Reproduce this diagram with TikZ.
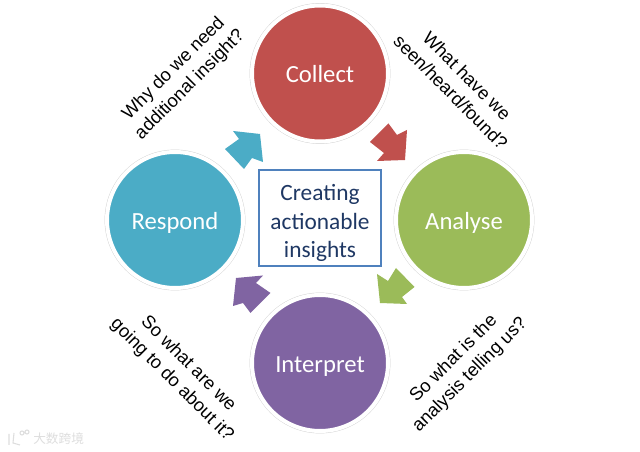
\documentclass[tikz,border=0pt]{standalone}
\usepackage{fontspec}
\setmainfont{Carlito}
\newfontfamily\arialf{Liberation Sans}
\newfontfamily\cjkf{Noto Sans CJK SC}
\definecolor{cred}{HTML}{C0504D}
\definecolor{cgreen}{HTML}{9BBB59}
\definecolor{cblue}{HTML}{4BACC6}
\definecolor{cpurple}{HTML}{8064A2}
\definecolor{cbox}{HTML}{4F81BD}
\definecolor{cnavy}{HTML}{1F3864}
\tikzset{
  x=0.75pt,y=-0.75pt,
  ring/.style={circle,draw=white,line width=3pt,minimum size=102pt,inner sep=0pt,text=white,text height=14pt,text depth=0pt,font=\fontsize{18.5}{22}\selectfont,
     preaction={draw=black!18,line width=3.6pt}},
  qlabel/.style={font=\arialf\fontsize{13.7}{17.2}\selectfont,align=center,text=black},
  mainbox/.style={draw=cbox,line width=2pt},
  maintext/.style={inner sep=0pt,align=center,text=cnavy,font=\fontsize{17.5}{21.4}\selectfont},
  faint/.style={text=black!13,font=\cjkf\fontsize{9.5}{11}\selectfont,inner sep=0pt}
}
\begin{document}
\begin{tikzpicture}
\useasboundingbox[fill=white] (0,0) rectangle (640,452);
\node[ring,fill=cred] (collect) at (320,73.5) {Collect};
\node[ring,fill=cgreen] (analyse) at (464,220) {Analyse};
\node[ring,fill=cpurple] (interpret) at (320,363) {Interpret};
\node[ring,fill=cblue] (respond) at (175,220) {Respond};
\draw[mainbox] (259,170) rectangle (381,266);
\node[maintext] (centre) at (320,223) {Creating\\actionable\\insights};
\fill[cred] (370,142) -- (388.5,123.5) -- (397,135) -- (407,130) -- (405,160) -- (377,161) -- (384,153) -- cycle;
\fill[cgreen] (396,268) -- (414.5,287) -- (402,297) -- (407,304) -- (380,303) -- (377,274) -- (388,281) -- cycle;
\fill[cpurple] (270.5,293) -- (250.5,313) -- (243,303) -- (233,306) -- (236,278) -- (263,275.5) -- (256,283) -- cycle;
\fill[cblue] (225,149) -- (244,169) -- (252,158) -- (263,162) -- (260,134) -- (233,131) -- (239,139) -- cycle;
\node[qlabel,rotate=45] (q1) at (182,77) {Why do we need\\additional insight?};
\node[qlabel,rotate=-45] (q2) at (459,84) {What have we\\seen/heard/found?};
\node[qlabel,rotate=45] (q3) at (462,367) {So what is the\\analysis telling us?};
\node[qlabel,rotate=-45] (q4) at (180,372) {So what are we\\going to do about it?};
\node[faint,anchor=west] (mark) at (33,439) {大数跨境};
\draw[black!13,line width=0.8pt] (9,434) -- (9,445) (14,433) -- (13,443) -- (20,445) (22,433) circle (2) (27,432) circle (2);
\end{tikzpicture}
\end{document}
